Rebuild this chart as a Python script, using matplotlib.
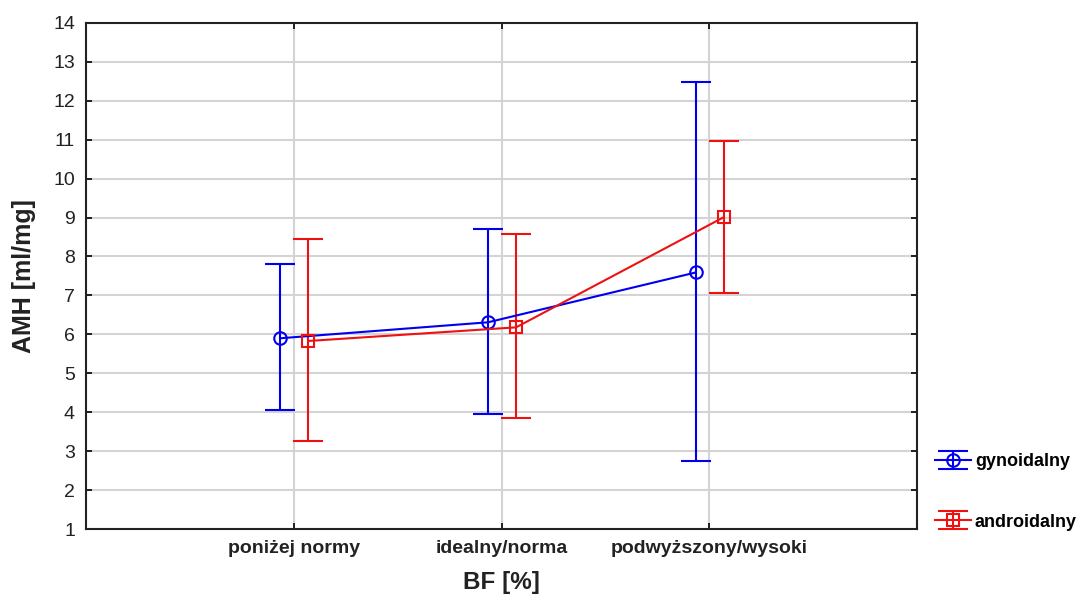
import matplotlib
matplotlib.use("Agg")
import matplotlib.pyplot as plt
import numpy as np

plt.rcParams['font.family'] = ['Liberation Sans', 'DejaVu Sans']

# data
categories = ['poniżej normy', 'idealny/norma', 'podwyższony/wysoki']
gyn_mean = [5.90, 6.31, 7.59]
gyn_low = [4.05, 3.95, 2.75]
gyn_high = [7.80, 8.70, 12.47]
and_mean = [5.83, 6.18, 9.01]
and_low = [3.26, 3.85, 7.06]
and_high = [8.45, 8.57, 10.97]

x = np.arange(len(categories))

fig = plt.figure(figsize=(10.81, 6.03), dpi=100)
ax = fig.add_axes([0.0796, 0.1227, 0.7687, 0.8393])

gyn_err = [np.array(gyn_mean) - np.array(gyn_low), np.array(gyn_high) - np.array(gyn_mean)]
and_err = [np.array(and_mean) - np.array(and_low), np.array(and_high) - np.array(and_mean)]

ax.errorbar(x - 0.065, gyn_mean, yerr=gyn_err, color='#0000ee', marker='o', ms=9,
            mfc='none', mew=1.5, lw=1.5, capsize=11, capthick=1.5, label='gynoidalny', zorder=3)
ax.errorbar(x + 0.07, and_mean, yerr=and_err, color='#ee1111', marker='s', ms=9,
            mfc='none', mew=1.5, lw=1.5, capsize=11, capthick=1.5, label='androidalny', zorder=3)

ax.set_xlim(-1, 3)
ax.set_ylim(1, 14)
ax.set_yticks(range(1, 15))
ax.set_xticks(x)
ax.set_xticklabels(categories, fontsize=14, fontweight='bold', color='#222222')
ax.tick_params(axis='y', labelsize=14, labelcolor='#222222')
ax.tick_params(direction='in', length=4, width=1.2, top=True, right=True, pad=8)
ax.grid(True, color='#d4d4d4', lw=1.5)
ax.set_axisbelow(True)
for s in ax.spines.values():
    s.set_linewidth(1.5)
    s.set_color('#222222')

ax.set_xlabel('BF [%]', fontsize=17.5, fontweight='bold', labelpad=10, color='#222222')
ax.set_ylabel('AMH [ml/mg]', fontsize=18, fontweight='bold', labelpad=12, color='#222222')

fig.legend(loc='upper left', bbox_to_anchor=(0.850, 0.275), frameon=False,
           labelspacing=2.4, handlelength=2.0, handletextpad=0.2,
           prop={'weight': 'bold', 'size': 13})

fig.savefig('out.png', dpi=100)
